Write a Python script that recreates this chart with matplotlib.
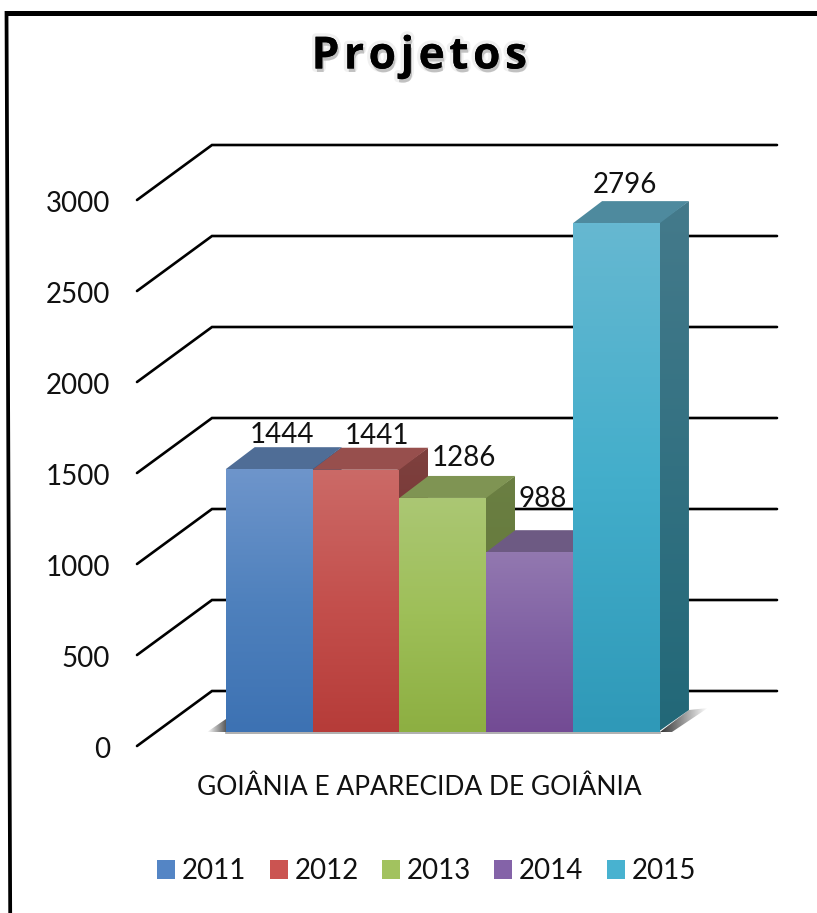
import numpy as np
import matplotlib
matplotlib.use("Agg")
import matplotlib.pyplot as plt
from matplotlib.colors import LinearSegmentedColormap, to_rgb
from matplotlib.patches import Patch, Polygon
import matplotlib.patheffects as pe

# ---- data ----
title = "Projetos"
category = "GOIÂNIA E APARECIDA DE GOIÂNIA"
years = ["2011", "2012", "2013", "2014", "2015"]
values = [1444, 1441, 1286, 988, 2796]
y_ticks = [0, 500, 1000, 1500, 2000, 2500, 3000]

# ---- styles ----
front_colors = [
    ("#6E95CB", "#4F81BD", "#3D72B3"),
    ("#CB6A67", "#C4504D", "#B63C39"),
    ("#ABC774", "#9EBF58", "#8DAF42"),
    ("#9278B0", "#8060A3", "#734B94"),
    ("#66B8D1", "#43AECB", "#2F99B8"),
]
top_colors = ["#4F6D96", "#974F4D", "#7F9453", "#6D5A83", "#4E8A9E"]
side_colors = [("#3F5D85", "#2F5585"), ("#7E403E", "#6E2B29"), ("#6B7F43", "#5F7534"),
               ("#5C4873", "#503A6A"), ("#447A8B", "#226878")]
legend_colors = ["#5485C5", "#CB5451", "#A2C25F", "#8463A8", "#48B2D0"]
label_dx = [56, 64, 64, 56, 52]   # px from bar left edge
label_dy = [34, 34, 40, 53, 38]   # px above front top edge

W, H = 817, 913
BAR_PX, X0_PX, BASE_PX, PX_PER_VALUE = 86.85, 225.7, 732.0, 0.182
DX, DY = 29 / BAR_PX, 22 / PX_PER_VALUE   # depth in data units


def dx_px(p):
    return p / BAR_PX


def dy_px(p):
    return p / PX_PER_VALUE


def X(px):
    return (px - X0_PX) / BAR_PX


def Y(px):
    return (BASE_PX - px) / PX_PER_VALUE


fig = plt.figure(figsize=(W / 100, H / 100), dpi=100, facecolor="white")
ax = fig.add_axes([0, 0, 1, 1])
ax.set_axis_off()
plt.rcParams["font.family"] = ["Lato", "DejaVu Sans"]
TXT = "#111111"

# outer frame
ax.plot([X(6.5), X(10.2)], [Y(11), Y(913)], color="black", lw=2.7, solid_capstyle="butt", zorder=1)
ax.plot([X(5), X(817)], [Y(13.5), Y(13.5)], color="black", lw=3.6, solid_capstyle="butt", zorder=1)

# gridlines: front-left stub, diagonal up to the back wall, then across
back_off = dy_px(41)      # back wall floor above bars' base
front_off = dy_px(-14)    # front-left corner below bars' base
for v in y_ticks:
    ax.plot([X(137), X(212), X(777)], [v + front_off, v + back_off, v + back_off],
            color="black", lw=1.9, solid_capstyle="round", solid_joinstyle="miter", zorder=2)
    ax.text(X(110), v + front_off - dy_px(4), str(v), ha="right", va="center",
            fontsize=20, color=TXT, zorder=9)


def gradient(poly, colors, horizontal=False, alpha=None, zorder=3):
    xs, ys = zip(*poly)
    n = 128
    if alpha is None:
        cmap = LinearSegmentedColormap.from_list("g", colors)
        img = cmap(np.linspace(0, 1, n))
    else:
        img = np.zeros((n, 4))
        img[:, :3] = to_rgb(colors[0])
        img[:, 3] = np.linspace(alpha[0], alpha[1], n)
    img = img[None, :, :] if horizontal else img[:, None, :]
    im = ax.imshow(img, extent=(min(xs), max(xs), min(ys), max(ys)), origin="upper",
                   aspect="auto", interpolation="bilinear", zorder=zorder)
    clip = Polygon(poly, closed=True, transform=ax.transData, fc="none", ec="none")
    ax.add_patch(clip)
    im.set_clip_path(clip)


# floor shadows
gradient([(X(207), 0), (X(226), 0), (X(226), dy_px(13))], ["#000000"], horizontal=True,
         alpha=(0.0, 0.65), zorder=2.5)
n = len(values)
gradient([(n, 0), (n + DX, DY), (n + dx_px(48), DY + dy_px(2)), (n + dx_px(12), 0)], ["#000000"],
         horizontal=True, alpha=(0.8, 0.0), zorder=2.5)
ax.plot([0, n], [-dy_px(1), -dy_px(1)], color="#8A8A8A", lw=1.2, alpha=0.8, zorder=2.6)

# bars
overlap = dx_px(2)   # side face tucks under the front face
for i, v in enumerate(values):
    z = 3 + i * 0.1
    gradient([(i + 1 - overlap, 0), (i + 1 + DX, DY), (i + 1 + DX, v + DY), (i + 1 - overlap, v)],
             side_colors[i], zorder=z)
    ax.add_patch(Polygon([(i, v), (i + 1, v), (i + 1 + DX, v + DY), (i + DX, v + DY)],
                         closed=True, fc=top_colors[i], ec="none", zorder=z + 0.01))
    gradient([(i, 0), (i + 1, 0), (i + 1, v), (i, v)], front_colors[i], zorder=z + 0.02)
    ax.text(i + dx_px(label_dx[i]), v + dy_px(label_dy[i]), str(v), ha="center", va="center",
            fontsize=20, color=TXT, zorder=9)

# category label
ax.text(X(419.5), Y(787), category, ha="center", va="center", fontsize=19, color=TXT, zorder=9)

# title (hair spaces give the reference's letter tracking)
ax.text(X(419.5), Y(57), "\u200a".join(title), ha="center", va="center", fontsize=32,
        fontweight="bold", family=["Open Sans", "DejaVu Sans"], color="black", zorder=9,
        path_effects=[pe.withStroke(linewidth=5, foreground="#888888", alpha=0.12),
                      pe.SimplePatchShadow(offset=(1, -2.5), alpha=0.3, shadow_rgbFace="#555555"),
                      pe.Normal()])

# legend
handles = [Patch(facecolor=c, edgecolor="none", label=y) for c, y in zip(legend_colors, years)]
leg = ax.legend(handles=handles, loc="center", bbox_to_anchor=(426.5 / W, 1 - 871 / H),
                bbox_transform=ax.transAxes, ncol=5, frameon=False, fontsize=20,
                handlelength=0.65, handleheight=0.65, handletextpad=0.25, columnspacing=0.83,
                borderpad=0, borderaxespad=0)
for t in leg.get_texts():
    t.set_color(TXT)

ax.set_xlim(X(0), X(W))
ax.set_ylim(Y(H), Y(0))
fig.savefig("out.png", dpi=100, facecolor="white")
